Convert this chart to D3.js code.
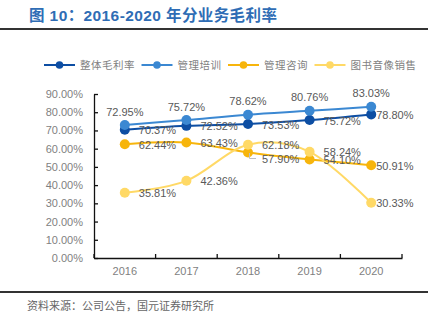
<!DOCTYPE html>
<html>
<head>
<meta charset="utf-8">
<script src="https://cdn.jsdelivr.net/npm/d3@7"></script>
<style>
  body { margin: 0; background: #fff; }
  svg { display: block; font-family: "Liberation Sans", Arial, "Noto Sans CJK SC", sans-serif; }
  .cjk { font-family: "Noto Sans CJK SC", sans-serif; }
</style>
</head>
<body>
<div id="chart"></div>
<script>
// gross margin by business line, %
var years = ['2016', '2017', '2018', '2019', '2020'];
var seriesNames = ['整体毛利率', '管理培训', '管理咨询', '图书音像销售'];
var overall = [70.37, 72.52, 73.53, 75.72, 78.80];
var training = [72.95, 75.72, 78.62, 80.76, 83.03];
var consulting = [62.44, 63.43, 57.90, 54.10, 50.91];
var books = [35.81, 42.36, 62.18, 58.24, 30.33];
var yTicks = [0, 10, 20, 30, 40, 50, 60, 70, 80, 90];

var colors = ['#0d4ea3', '#3b88d2', '#f7b50c', '#ffd966'];

var width = 438, height = 328;
var margin = { top: 94, right: 36, bottom: 70, left: 94 };

var svg = d3.select('#chart').append('svg')
    .attr('width', width)
    .attr('height', height);

// header & footer
svg.append('text')
    .attr('class', 'cjk')
    .attr('x', 29).attr('y', 21)
    .attr('fill', '#2f6db5')
    .attr('font-size', '15.5px')
    .attr('font-weight', 'bold')
    .attr('letter-spacing', '0.4px')
    .style('font-family', '"Liberation Sans", Arial, "Noto Sans CJK SC", sans-serif')
    .text('图 10：2016-2020 年分业务毛利率');

svg.append('line')
    .attr('x1', 0).attr('x2', 428).attr('y1', 29).attr('y2', 29)
    .attr('stroke', '#333').attr('stroke-width', 2);

svg.append('line')
    .attr('x1', 0).attr('x2', 428).attr('y1', 292).attr('y2', 292)
    .attr('stroke', '#333').attr('stroke-width', 2);

svg.append('text')
    .attr('class', 'cjk')
    .attr('x', 27).attr('y', 309.5)
    .attr('fill', '#666')
    .attr('font-size', '11px')
    .text('资料来源：公司公告，国元证券研究所');

var x = d3.scaleBand()
    .domain(years)
    .range([margin.left, width - margin.right])
    .paddingInner(0).paddingOuter(0);

var y = d3.scaleLinear()
    .domain([0, 90])
    .range([height - margin.bottom, margin.top]);

// axes
var yAxis = svg.append('g')
    .attr('transform', 'translate(' + margin.left + ',0)')
    .call(d3.axisLeft(y)
        .tickValues(yTicks)
        .tickSizeInner(-4)
        .tickSizeOuter(0)
        .tickPadding(11)
        .tickFormat(function(d) { return d3.format('.2f')(d) + '%'; }));

var xAxis = svg.append('g')
    .attr('transform', 'translate(0,' + y(0) + ')')
    .call(d3.axisBottom(x).tickSize(0).tickPadding(9));

[yAxis, xAxis].forEach(function(g) {
    g.select('.domain').attr('stroke', '#111').attr('stroke-width', 1.3);
    g.selectAll('.tick line').attr('stroke', '#111').attr('stroke-width', 1.3);
    g.selectAll('.tick text')
        .attr('fill', '#7f7f7f')
        .attr('font-size', '11px')
        .style('font-family', '"Liberation Sans", Arial, sans-serif');
});

// category boundary ticks, pointing into the plot
var boundaries = years.map(function(d) { return x(d); }).concat([x.range()[1]]);
xAxis.selectAll('.bound')
    .data(boundaries)
    .enter().append('line')
    .attr('class', 'bound')
    .attr('x1', function(d) { return d; })
    .attr('x2', function(d) { return d; })
    .attr('y1', 0).attr('y2', -4)
    .attr('stroke', '#111').attr('stroke-width', 1.3);

var series = [overall, training, consulting, books].map(function(values, i) {
    return {
        name: seriesNames[i],
        color: colors[i],
        points: values.map(function(v, j) { return { year: years[j], value: v, idx: j }; })
    };
});

var cx = function(d) { return x(d.year) + x.bandwidth() / 2; };

var line = d3.line()
    .x(cx)
    .y(function(d) { return y(d.value); })
    .curve(d3.curveCardinal.tension(0));

var plot = svg.append('g');

series.forEach(function(s) {
    var g = plot.append('g');
    g.append('path')
        .datum(s.points)
        .attr('fill', 'none')
        .attr('stroke', s.color)
        .attr('stroke-width', 2);
    g.select('path').attr('d', line);
    g.selectAll('circle')
        .data(s.points)
        .enter().append('circle')
        .attr('cx', cx)
        .attr('cy', function(d) { return y(d.value); })
        .attr('r', 5)
        .attr('fill', s.color);
});

// value labels: training above its markers, the rest to the right
var labels = svg.append('g')
    .attr('font-size', '11px')
    .attr('fill', '#595959');

series.forEach(function(s, si) {
    s.points.forEach(function(p) {
        var px = cx(p), py = y(p.value);
        var t = labels.append('text').text(d3.format('.2f')(p.value) + '%');
        if (si === 1) {
            t.attr('x', px).attr('y', py - 9.5).attr('text-anchor', 'middle');
        } else {
            var dx = p.idx === years.length - 1 ? 5 : 14;
            var dy = 4.5;
            // consulting 2018 label is pushed down and tied back with a leader
            if (si === 2 && p.idx === 2) {
                dy = 11;
                labels.append('path')
                    .attr('d', 'M' + (px + 1.5) + ',' + (py + 0.5) + 'V' + (py + 6) + 'H' + (px + 8))
                    .attr('fill', 'none')
                    .attr('stroke', '#bfbfbf')
                    .attr('stroke-width', 1);
            }
            t.attr('x', px + dx).attr('y', py + dy);
        }
    });
});

// legend
var legend = svg.append('g').attr('transform', 'translate(44,65)');
var lx = 0;
series.forEach(function(s) {
    var item = legend.append('g').attr('transform', 'translate(' + lx + ',0)');
    item.append('line')
        .attr('x1', 0).attr('x2', 31)
        .attr('stroke', s.color).attr('stroke-width', 2);
    item.append('circle')
        .attr('cx', 15.5).attr('r', 3.8)
        .attr('fill', s.color);
    var txt = item.append('text')
        .attr('class', 'cjk')
        .attr('x', 36).attr('y', 4)
        .attr('fill', '#7f7f7f')
        .attr('font-size', '10.5px')
        .attr('letter-spacing', '0.5px')
        .text(s.name);
    lx += 36 + txt.node().getComputedTextLength() + 6.5;
});
</script>
</body>
</html>
